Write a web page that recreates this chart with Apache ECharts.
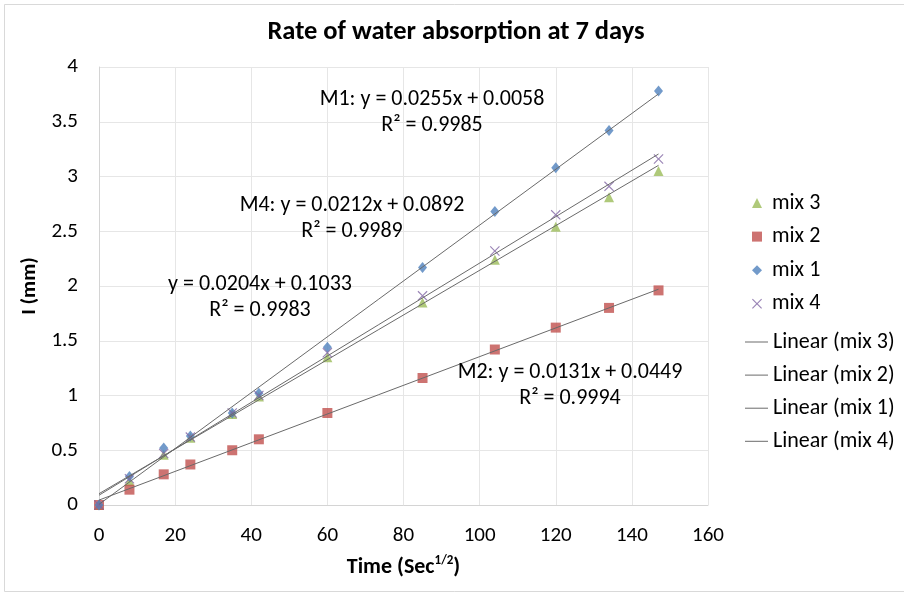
<!DOCTYPE html>
<html>
<head>
<meta charset="utf-8">
<script src="https://cdn.jsdelivr.net/npm/echarts@6/dist/echarts.min.js"></script>
<style>
  html, body { margin: 0; padding: 0; background: #fff; }
  #chart { width: 904px; height: 593px; }
</style>
</head>
<body>
<div id="chart"></div>
<script>
// Square root of time (sec^1/2) at each reading
const timeSqrt = [0, 8, 17, 24, 35, 42, 60, 85, 104, 120, 134, 147];

// Cumulative absorption I (mm) per mix
const mix1 = [0, 0.26, 0.52, 0.63, 0.84, 1.02, 1.44, 2.17, 2.68, 3.08, 3.42, 3.78];
const mix2 = [0, 0.14, 0.28, 0.37, 0.50, 0.60, 0.84, 1.16, 1.42, 1.62, 1.80, 1.96];
const mix3 = [0, 0.22, 0.46, 0.615, 0.83, 0.99, 1.35, 1.85, 2.24, 2.54, 2.81, 3.05];
const mix4 = [0, 0.24, 0.47, 0.62, 0.84, 1.00, 1.39, 1.91, 2.32, 2.65, 2.91, 3.16];

// Linear fit coefficients (slope, intercept), order: mix 1, mix 2, mix 3, mix 4
const fitSlopes = [0.0255, 0.0131, 0.0204, 0.0212];
const fitIntercepts = [0.0058, 0.0449, 0.1033, 0.0892];
const fitR2 = ['0.9985', '0.9994', '0.9983', '0.9989'];
const fitPrefixes = ['M1: ', 'M2: ', '', 'M4: '];

const xTicks = [0, 20, 40, 60, 80, 100, 120, 140, 160];
const yTicks = [0, 0.5, 1, 1.5, 2, 2.5, 3, 3.5, 4];

const markerNames = ['mix 3', 'mix 2', 'mix 1', 'mix 4'];
const fitNames = ['Linear (mix 3)', 'Linear (mix 2)', 'Linear (mix 1)', 'Linear (mix 4)'];

const FONT = 'Carlito, Lato, sans-serif';
const TEXT = '#000';

function pairs(ys) { return timeSqrt.map((x, i) => [x, ys[i]]); }

function fitLine(k) {
  const x0 = timeSqrt[0];
  const x1 = timeSqrt[timeSqrt.length - 1];
  return [[x0, fitSlopes[k] * x0 + fitIntercepts[k]], [x1, fitSlopes[k] * x1 + fitIntercepts[k]]];
}

function eqText(k) {
  return fitPrefixes[k] + 'y = ' + fitSlopes[k].toFixed(4) + 'x + ' + fitIntercepts[k].toFixed(4) +
    '\nR\u00B2 = ' + fitR2[k];
}

const crossPath = 'path://M0,0.8L0.8,0L5,4.2L9.2,0L10,0.8L5.8,5L10,9.2L9.2,10L5,5.8L0.8,10L0,9.2L4.2,5Z';

const TREND = '#6a6a6a';

function trend(name, k) {
  return {
    name: name, type: 'line', data: fitLine(k), symbol: 'none',
    lineStyle: { color: TREND, width: 1 }, itemStyle: { color: TREND }, z: 3, silent: true
  };
}

const chart = echarts.init(document.getElementById('chart'), null, { renderer: 'canvas' });

// Equation annotations: [fit index, centre x, centre y]
const eqPlaces = [[0, 432, 112], [3, 352, 218], [2, 260, 297], [1, 570, 385]];

const legendText = { fontFamily: FONT, fontSize: 22, color: TEXT, lineHeight: 22 };

chart.setOption({
  animation: false,
  backgroundColor: '#fff',
  title: {
    text: 'Rate of water absorption at 7 days',
    left: 451, top: 14, textAlign: 'center',
    textStyle: { fontFamily: FONT, fontSize: 26.5, fontWeight: 'bold', color: TEXT }
  },
  grid: { left: 99, right: 196, top: 67, bottom: 88 },
  legend: [
    {
      orient: 'vertical', left: 752, top: 192, padding: 0,
      itemWidth: 10, itemHeight: 10, itemGap: 11.6,
      textStyle: Object.assign({ padding: [0, 0, 0, 5] }, legendText),
      data: markerNames
    },
    {
      orient: 'vertical', left: 745, top: 331, padding: 0,
      itemWidth: 23, itemHeight: 1, itemGap: 11.1,
      icon: 'rect',
      itemStyle: { color: TREND },
      lineStyle: { width: 0 },
      textStyle: legendText,
      data: fitNames
    }
  ],
  xAxis: {
    type: 'value', min: xTicks[0], max: xTicks[xTicks.length - 1], interval: 20,
    name: '{a|Time (Sec}{s|1/2}{a|)}', nameLocation: 'middle', nameGap: 49,
    nameTextStyle: {
      rich: {
        a: { fontFamily: FONT, fontSize: 22, fontWeight: 'bold', color: TEXT, lineHeight: 24, verticalAlign: 'bottom' },
        s: { fontFamily: FONT, fontSize: 13, fontWeight: 'bold', color: TEXT, lineHeight: 24, verticalAlign: 'top' }
      }
    },
    axisLine: { lineStyle: { color: '#d4d4d4' } },
    axisTick: { show: false },
    axisLabel: { margin: 20, fontFamily: FONT, fontSize: 21, color: TEXT },
    splitLine: { lineStyle: { color: '#e6e6e6' } }
  },
  yAxis: {
    type: 'value', min: yTicks[0], max: yTicks[yTicks.length - 1], interval: 0.5,
    name: 'I (mm)', nameLocation: 'middle', nameGap: 55,
    nameTextStyle: { fontFamily: FONT, fontSize: 21, fontWeight: 'bold', color: TEXT },
    axisLine: { show: true, lineStyle: { color: '#d4d4d4' } },
    axisTick: { show: false },
    axisLabel: { margin: 21, fontFamily: FONT, fontSize: 21, color: TEXT },
    splitLine: { lineStyle: { color: '#e6e6e6' } }
  },
  series: [
    { name: 'mix 3', type: 'scatter', data: pairs(mix3), symbol: 'triangle', symbolSize: 10,
      itemStyle: { color: '#9BBB59' }, z: 2 },
    { name: 'mix 2', type: 'scatter', data: pairs(mix2), symbol: 'rect', symbolSize: 10,
      itemStyle: { color: '#C0504D' }, z: 2 },
    { name: 'mix 1', type: 'scatter', data: pairs(mix1), symbol: 'diamond', symbolSize: [9, 11],
      itemStyle: { color: '#4F81BD' }, z: 2 },
    { name: 'mix 4', type: 'scatter', data: pairs(mix4), symbol: crossPath, symbolSize: 10,
      itemStyle: { color: '#8064A2' }, z: 2 },
    trend(fitNames[0], 2),
    trend(fitNames[1], 1),
    trend(fitNames[2], 0),
    trend(fitNames[3], 3)
  ],
  graphic: [
    { type: 'rect', shape: { x: 4.5, y: 4.5, width: 1000, height: 587 },
      style: { fill: 'none', stroke: '#d9d9d9', lineWidth: 1 }, silent: true, z: -1 }
  ].concat(eqPlaces.map(p => ({
    type: 'text', x: p[1], y: p[2], silent: true, z: 10,
    style: {
      text: eqText(p[0]), fill: TEXT, font: '22px ' + FONT,
      textAlign: 'center', textVerticalAlign: 'middle', lineHeight: 26
    }
  })))
});
</script>
</body>
</html>
